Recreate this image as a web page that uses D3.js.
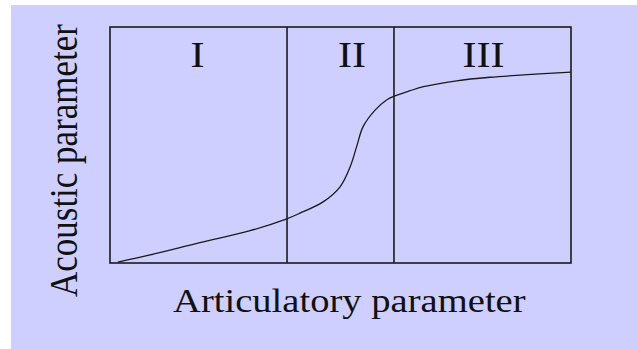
<!DOCTYPE html>
<html lang="en">
    <head>
        <meta charset="utf-8">
        <title>Articulatory vs acoustic parameter</title>
        <style>
            body{
                margin: 0;
                background-color: white;
            }
            svg{
                display: block;
            }
        </style>
        <script src="https://d3js.org/d3.v7.min.js"></script>
    </head>
    <body></body>
    <script>
        // curve, both axes in 0..100
        let artic    = [1.7, 8.7, 19.5, 30.4, 38.2, 41.2, 46.3, 49.9, 52.1, 53.5, 54.9, 57.5, 60.0, 61.8, 65.1, 68.0, 75.2, 82.4, 89.7, 100]
        let acoustic = [0.4, 3.4, 8.6, 13.7, 18.6, 21.1, 26.0, 32.3, 40.8, 49.3, 57.8, 64.8, 69.1, 70.8, 73.0, 74.7, 77.2, 78.7, 79.7, 80.9]

        // region borders and labels
        let borders = [38.4, 61.6]
        let regions = ["I", "II", "III"]
        let regionCenters = [19.0, 52.5, 81.0]

        let xTitle = "Articulatory parameter"
        let yTitle = "Acoustic parameter"

        let width = 637
        let height = 349
        let box = {left: 110, right: 571, top: 27, bottom: 263}
        let serif = '"Liberation Serif"'
        // the original picture is stretched sideways, text included
        let stretch = 1.17

        let svg = d3.select("body")
                    .append("svg")
                    .attr("width", width)
                    .attr("height", height)

        svg.append("rect")
            .attr("x", 11)
            .attr("y", 5)
            .attr("width", width - 11)
            .attr("height", height - 5)
            .attr("fill", "#cfcfff")

        let xScale = d3.scaleLinear().domain([0, 100]).range([box.left, box.right])
        let yScale = d3.scaleLinear().domain([0, 100]).range([box.bottom, box.top])

        // frame
        svg.append("rect")
            .attr("x", xScale(0))
            .attr("y", yScale(100))
            .attr("width", xScale(100) - xScale(0))
            .attr("height", yScale(0) - yScale(100))
            .attr("fill", "none")
            .attr("stroke", "#1a1a1a")
            .attr("stroke-width", 1.6)

        svg.selectAll(".border")
            .data(borders)
            .enter()
            .append("line")
            .attr("class", "border")
            .attr("x1", d => xScale(d))
            .attr("x2", d => xScale(d))
            .attr("y1", yScale(0))
            .attr("y2", yScale(100))
            .attr("stroke", "#1a1a1a")
            .attr("stroke-width", 1.6)

        let points = artic.map((a, i) => [a, acoustic[i]])
        let line = d3.line()
                    .x(d => xScale(d[0]))
                    .y(d => yScale(d[1]))
                    .curve(d3.curveCatmullRom.alpha(0.5))

        svg.append("path")
            .datum(points)
            .attr("d", line)
            .attr("fill", "none")
            .attr("stroke", "#1a1a1a")
            .attr("stroke-width", 1.3)

        svg.selectAll(".region")
            .data(regions)
            .enter()
            .append("text")
            .attr("class", "region")
            .attr("transform", (d, i) => `translate(${xScale(regionCenters[i])}, 67) scale(${stretch}, 1)`)
            .attr("text-anchor", "middle")
            .attr("font-size", 36)
            .style("font-family", serif)
            .attr("fill", "#111")
            .text(d => d)

        svg.append("text")
            .attr("transform", `translate(173, 312) scale(${stretch}, 1)`)
            .attr("font-size", 33)
            .style("font-family", serif)
            .attr("fill", "#111")
            .text(xTitle)

        svg.append("text")
            .attr("transform", `translate(77, 297) rotate(-90) scale(1, ${stretch})`)
            .attr("font-size", 35)
            .style("font-family", serif)
            .attr("fill", "#111")
            .text(yTitle)
    </script>
</html>
